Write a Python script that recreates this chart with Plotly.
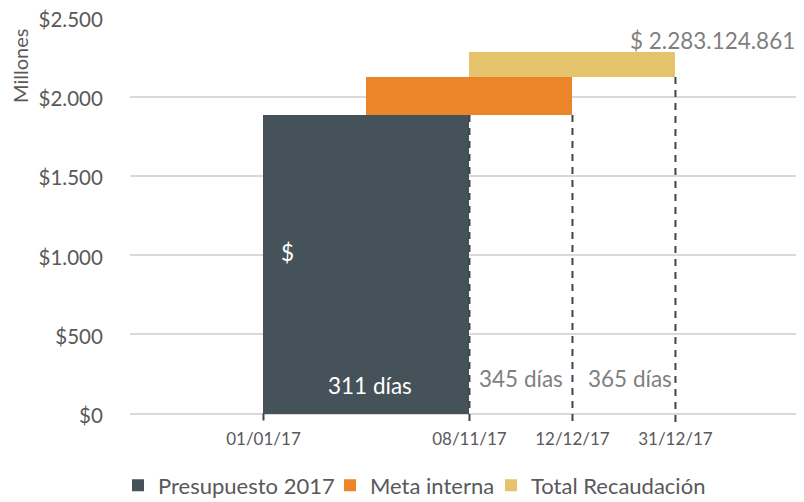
import plotly.graph_objects as go

# eje x por posiciones (fechas de corte)
fechas = ["01/01/17", "08/11/17", "12/12/17", "31/12/17"]
pos_fechas = [2, 4, 5, 6]

# barras (millones)
series = ["Presupuesto 2017", "Meta interna", "Total Recaudación"]
centros = [3, 4, 5]
bases = [0, 1888, 2127]
alturas = [1888, 239, 156.1]
colores = ["#465259", "#EC8429", "#E4C36C"]

# líneas de corte punteadas: desde el tope hasta bajo el eje
cortes_x = [2, 4, 5, 6]
cortes_tope = [0, 1888, 1888, 2127]

dias = ["311 días", "345 días", "365 días"]
total_txt = "$ 2.283.124.861"

y_ticks = [0, 500, 1000, 1500, 2000, 2500]
y_labels = ["$0", "$500", "$1.000", "$1.500", "$2.000", "$2.500"]

FONT = "Lato"
GRIS = "#595959"

# la página html deja 8px de margen en el body
OFF = 8
L, T, W, H = 130 - OFF, 18 - OFF, 674, 405.5

# cada entrada de leyenda por separado (borde izquierdo en px de página)
leyenda_px = [118, 330, 491]
leyendas = ["legend", "legend2", "legend3"]

fig = go.Figure()

for nombre, c, b, h, col, lg in zip(series, centros, bases, alturas, colores, leyendas):
    fig.add_trace(go.Bar(
        x=[c], y=[h], base=[b], width=2, name=nombre, legend=lg,
        marker=dict(color=col, line=dict(width=0)),
    ))

for cx, tope in zip(cortes_x, cortes_tope):
    fig.add_trace(go.Scatter(
        x=[cx, cx], y=[tope, -55], mode="lines", showlegend=False,
        line=dict(color="#3b464c", width=2, dash="7px,6px"),
        hoverinfo="skip",
    ))

anots = [
    dict(x=2.23, y=1016, text="$", color="white"),
    dict(x=3.03, y=177, text=dias[0], color="white"),
    dict(x=4.5, y=221, text=dias[1], color="#7f7f7f"),
    dict(x=5.555, y=221, text=dias[2], color="#7f7f7f"),
    dict(x=6.364, y=2361, text=total_txt, color="#7f7f7f"),
]
for a in anots:
    fig.add_annotation(
        x=a["x"], y=a["y"], xref="x", yref="y", text=a["text"], showarrow=False,
        font=dict(family=FONT, size=22.5, color=a["color"]),
        xanchor="center", yanchor="middle",
    )

fig.add_annotation(
    x=(20 - OFF - L) / W, y=1 - (66 - OFF - T) / H, xref="paper", yref="paper",
    text="Millones", textangle=-90, showarrow=False,
    font=dict(family=FONT, size=20, color=GRIS),
    xanchor="center", yanchor="middle",
)

leg_cfg = {}
for lg, px in zip(leyendas, leyenda_px):
    leg_cfg[lg] = dict(
        orientation="h", x=(px - OFF - L) / W, xanchor="left",
        y=1 - (499 - T) / H, yanchor="bottom",
        font=dict(family=FONT, size=22, color=GRIS),
        itemwidth=30, bgcolor="rgba(0,0,0,0)",
    )

fig.update_layout(
    width=804, height=502,
    margin=dict(l=L, r=8, t=T, b=502 - T - H, autoexpand=False),
    paper_bgcolor="white", plot_bgcolor="white",
    barmode="overlay",
    bargap=0,
    font=dict(family=FONT, color=GRIS),
    xaxis=dict(
        range=[0.704, 7.248], tickvals=pos_fechas, ticktext=fechas,
        showgrid=False, zeroline=False, showline=False, automargin=False,
        ticks="outside", ticklen=1, tickcolor="rgba(0,0,0,0)",
        tickfont=dict(family=FONT, size=17, color=GRIS),
    ),
    yaxis=dict(
        range=[-60, 2500.5], tickvals=y_ticks, ticktext=y_labels,
        showgrid=True, gridcolor="#d9d9d9", gridwidth=2,
        zeroline=False, showline=False, automargin=False,
        ticks="outside", ticklen=22, tickcolor="rgba(0,0,0,0)",
        tickfont=dict(family=FONT, size=20.5, color=GRIS),
        ticklabeloverflow="allow", ticklabelshift=2,
    ),
    **leg_cfg,
)

fig.write_html("out.html")
